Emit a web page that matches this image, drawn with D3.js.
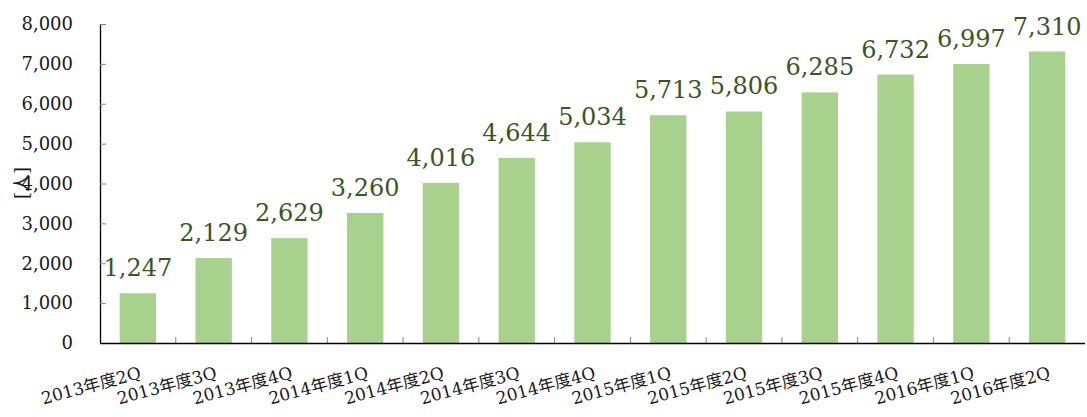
<!DOCTYPE html>
<html>
<head>
<meta charset="utf-8">
<script src="https://cdn.jsdelivr.net/npm/d3@7"></script>
<style>
  html, body { margin: 0; padding: 0; background: #fff; }
  svg { display: block; }
  text { font-family: "DejaVu Serif", "Noto Sans CJK JP", serif; }
</style>
</head>
<body>
<svg id="chart" width="1087" height="417"></svg>
<script>
// Quarterly headcount
const categories = ["2013年度2Q", "2013年度3Q", "2013年度4Q", "2014年度1Q", "2014年度2Q",
  "2014年度3Q", "2014年度4Q", "2015年度1Q", "2015年度2Q", "2015年度3Q",
  "2015年度4Q", "2016年度1Q", "2016年度2Q"];
const values = [1247, 2129, 2629, 3260, 4016, 4644, 5034, 5713, 5806, 6285, 6732, 6997, 7310];
const yTicks = [0, 1000, 2000, 3000, 4000, 5000, 6000, 7000, 8000];
const yTitle = "[人]";

const svg = d3.select("#chart");
const margin = { left: 100, right: 2, top: 24, bottom: 74 };
const W = +svg.attr("width"), H = +svg.attr("height");

const x = d3.scaleBand().domain(categories)
  .range([margin.left, W - margin.right]).paddingInner(0.52).paddingOuter(0.26);
const y = d3.scaleLinear().domain([0, 8000]).range([H - margin.bottom, margin.top]);
const fmt = d3.format(",");
const step = x.step();

// bars
svg.append("g").selectAll("rect").data(values).join("rect")
  .attr("x", (d, i) => x(categories[i]))
  .attr("y", d => y(d))
  .attr("width", x.bandwidth())
  .attr("height", d => y(0) - y(d))
  .attr("fill", "#a9d18e");

// value labels
svg.append("g").selectAll("text").data(values).join("text")
  .attr("x", (d, i) => x(categories[i]) + x.bandwidth() / 2)
  .attr("y", d => y(d) - 17)
  .attr("text-anchor", "middle")
  .attr("font-size", 24)
  .attr("fill", "#385723")
  .text(d => fmt(d));

// y axis
const yAxis = svg.append("g").attr("transform", `translate(${margin.left},0)`)
  .call(d3.axisRight(y).tickValues(yTicks).tickSize(6).tickFormat(""));
yAxis.select(".domain").attr("stroke", "#000").attr("stroke-width", 1.3)
  .attr("d", `M0.5,${y(8000)}V${y(0)}`);
yAxis.selectAll(".tick line").attr("stroke", "#888");

svg.append("g").selectAll("text").data(yTicks).join("text")
  .attr("x", 73)
  .attr("y", d => y(d))
  .attr("dy", "0.35em")
  .attr("text-anchor", "end")
  .attr("font-size", 18)
  .attr("fill", "#1a1a1a")
  .text(d => fmt(d));

// y axis title
svg.append("text")
  .attr("transform", `translate(28,${183}) rotate(-90)`)
  .attr("text-anchor", "middle")
  .attr("font-size", 18)
  .attr("fill", "#1a1a1a")
  .text(yTitle);

// x axis: baseline plus short separators between categories
const x0 = y(0);
svg.append("g").selectAll("line").data(categories.slice(1)).join("line")
  .attr("x1", d => x(d) - (step - x.bandwidth()) / 2)
  .attr("x2", d => x(d) - (step - x.bandwidth()) / 2)
  .attr("y1", x0).attr("y2", x0 - 6)
  .attr("stroke", "#888");
svg.append("line")
  .attr("x1", margin.left).attr("x2", W - margin.right)
  .attr("y1", x0 + 0.5).attr("y2", x0 + 0.5)
  .attr("stroke", "#000").attr("stroke-width", 1.3);

// category labels
svg.append("g").selectAll("text").data(categories).join("text")
  .attr("transform", d => `translate(${x(d) + x.bandwidth() / 2 + 4},${378}) rotate(-15)`)
  .attr("text-anchor", "end")
  .attr("font-size", 17)
  .attr("fill", "#1a1a1a")
  .text(d => d);
</script>
</body>
</html>
